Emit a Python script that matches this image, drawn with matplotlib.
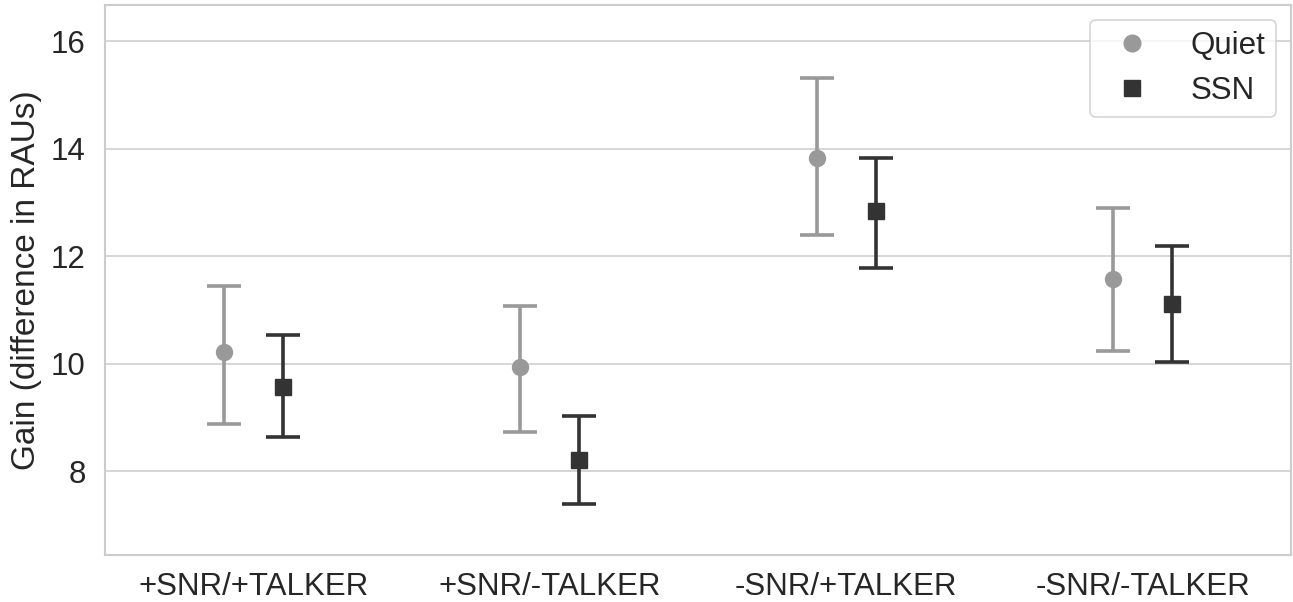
import matplotlib
matplotlib.use("Agg")
import matplotlib.pyplot as plt
import numpy as np

categories = ["+SNR/+TALKER", "+SNR/-TALKER", "-SNR/+TALKER", "-SNR/-TALKER"]
quiet_mean = [10.22, 9.93, 13.83, 11.58]
quiet_low = [8.88, 8.72, 12.39, 10.24]
quiet_high = [11.45, 11.08, 15.31, 12.89]
ssn_mean = [9.57, 8.20, 12.84, 11.10]
ssn_low = [8.64, 7.39, 11.78, 10.03]
ssn_high = [10.54, 9.02, 13.82, 12.18]
yticks = [8, 10, 12, 14, 16]

plt.rcParams['font.family'] = ['Liberation Sans', 'DejaVu Sans']

fig = plt.figure(figsize=(12.93, 6.02), dpi=100)
ax = fig.add_axes([105/1293, 1-555/602, (1291-105)/1293, (555-5)/602])

x = np.arange(len(categories))
series = [
    ("Quiet", quiet_mean, quiet_low, quiet_high, "#999999", "o", -0.1),
    ("SSN", ssn_mean, ssn_low, ssn_high, "#333333", "s", 0.1),
]
for name, m, lo, hi, col, mk, off in series:
    m = np.array(m); lo = np.array(lo); hi = np.array(hi)
    ax.errorbar(x + off, m, yerr=[m - lo, hi - m], fmt=mk, color=col,
                ecolor=col, elinewidth=2.6, capsize=12, capthick=2.6,
                markersize=11.5, label=name, zorder=3)

ax.set_xlim(-0.5, 3.5)
ax.set_ylim(6.44, 16.67)
ax.set_xticks(x)
ax.set_xticklabels(categories, fontsize=22.5)
ax.set_yticks(yticks)
ax.set_yticklabels([str(v) for v in yticks], fontsize=22.5)
ax.tick_params(axis='x', length=0, pad=12, colors='#262626')
ax.tick_params(axis='y', length=0, pad=14, colors='#262626')
ax.set_ylabel("Gain (difference in RAUs)", fontsize=24, color='#262626', labelpad=6)
ax.grid(axis='y', color='#d0d0d0', linewidth=1.2)
ax.grid(axis='x', visible=False)
ax.set_axisbelow(True)
for s in ax.spines.values():
    s.set_color('#cccccc')
    s.set_linewidth(1.5)

handles = [
    plt.Line2D([], [], marker='o', linestyle='none', color='#999999', markersize=12),
    plt.Line2D([], [], marker='s', linestyle='none', color='#333333', markersize=12),
]
leg = ax.legend(handles, ["Quiet", "SSN"], loc='upper right', fontsize=22.5,
                frameon=True, fancybox=True, edgecolor='#cccccc',
                handletextpad=0.85, borderpad=0.35, labelspacing=0.5,
                borderaxespad=0, bbox_to_anchor=(0.9874, 0.973))
leg.get_frame().set_linewidth(1.2)
for t in leg.get_texts():
    t.set_color('#262626')

fig.savefig("out.png", dpi=100)
